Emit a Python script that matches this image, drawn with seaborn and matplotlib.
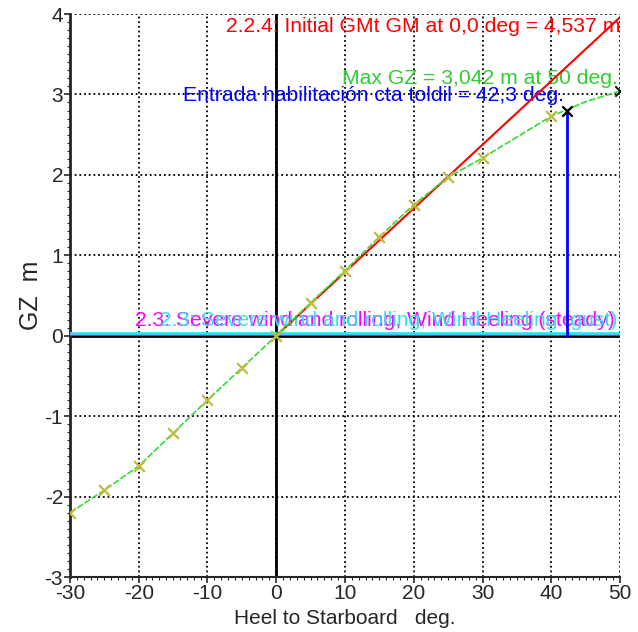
import matplotlib
matplotlib.use('Agg')
import matplotlib.pyplot as plt
import numpy as np
import pandas as pd
import seaborn as sns

# GZ curve
heel = [-30, -25, -20, -15, -10, -5, 0, 5, 10, 15, 20, 25, 30, 35, 40, 45, 50]
gz = [-2.2, -1.92, -1.62, -1.21, -0.80, -0.40, 0.0, 0.41, 0.81, 1.23, 1.63, 1.97, 2.21, 2.47, 2.73, 2.91, 3.042]
marked_heel = [-30, -25, -20, -15, -10, -5, 0, 5, 10, 15, 20, 25, 30, 40]

gm_initial = 4.537
max_gz_heel, max_gz = 50, 3.042
flood_heel, flood_gz = 42.3, 2.8
wind_steady = 0.025
wind_gust = 0.035

x_ticks = [-30, -20, -10, 0, 10, 20, 30, 40, 50]
y_ticks = [-3, -2, -1, 0, 1, 2, 3, 4]


def main():
    sns.set_style('white')
    plt.rcParams['font.family'] = ['Liberation Sans', 'DejaVu Sans']
    plt.rcParams['font.size'] = 15
    plt.rcParams['axes.unicode_minus'] = False

    df = pd.DataFrame({'Heel': heel, 'GZ': gz})
    marks = df[df['Heel'].isin(marked_heel)]

    fig = plt.figure(figsize=(6.38, 6.32), dpi=100)
    ax = fig.add_axes([0.1097, 0.087, 0.8621, 0.8908])

    ax.grid(True, color='black', linestyle=(0, (1, 1.6)), linewidth=1.3)
    ax.set_axisbelow(True)

    ax.axvline(0, color='black', lw=2, zorder=2)
    ax.axhline(0, color='black', lw=2, zorder=2)

    # wind heeling levers
    ax.axhline(wind_steady, color='magenta', lw=2, zorder=3)
    ax.axhline(wind_gust, color='#33E0F0', lw=2, zorder=3)

    # initial GM line
    gm_x = np.array([0, 57.3])
    ax.plot(gm_x, gm_x / 57.3 * gm_initial, color='red', lw=1.5, zorder=4)

    sns.lineplot(data=df, x='Heel', y='GZ', ax=ax, color='#33DD33', lw=1.2,
                 linestyle=(0, (4, 1.2)), zorder=5)
    sns.scatterplot(data=marks, x='Heel', y='GZ', ax=ax, marker='x', color='#C0BC40',
                    s=60, linewidth=1.6, zorder=6)

    ax.plot([flood_heel, flood_heel], [0, flood_gz], color='blue', lw=2, zorder=5)
    ax.scatter([flood_heel], [flood_gz], marker='x', color='black', s=55, linewidth=1.6, zorder=7)
    ax.scatter([max_gz_heel], [max_gz], marker='x', color='black', s=55, linewidth=1.3, zorder=7)

    fs = 15.2
    ax.text(50.1, 3.84, '2.2.4: Initial GMt GM at 0,0 deg = 4,537 m', color='red',
            ha='right', va='center', fontsize=fs)
    ax.text(49.7, 3.2, 'Max GZ = 3,042 m at 50 deg.', color='#33CC33',
            ha='right', va='center', fontsize=fs)
    ax.text(-13.6, 2.99, 'Entrada habilitación cta toldil = 42,3 deg.', color='blue',
            ha='left', va='center', fontsize=fs)
    ax.text(49.3, 0.19, '2.3: Severe wind and rolling, Wind Heeling (steady)', color='magenta',
            ha='right', va='center', fontsize=fs)
    ax.text(49.6, 0.19, '2.3: Severe wind and rolling, Wind Heeling (gust)', color='#33E0F0',
            ha='right', va='center', fontsize=fs)

    ax.set_xlim(-30, 50)
    ax.set_ylim(-3, 4)
    ax.set_xticks(x_ticks)
    ax.set_yticks(y_ticks)
    ax.set_xticks(np.arange(-30, 51, 1), minor=True)
    ax.set_yticks(np.arange(-3, 4.01, 0.1), minor=True)
    ax.tick_params(which='major', direction='out', length=4, width=1.2, labelsize=15, pad=1)
    ax.tick_params(which='minor', direction='out', length=2, width=0.8)
    ax.tick_params(axis='x', which='both', bottom=True)
    ax.tick_params(axis='y', which='both', left=True)

    for side in ['top', 'right']:
        ax.spines[side].set_visible(False)
    ax.spines['left'].set_linewidth(2)
    ax.spines['bottom'].set_linewidth(1.5)

    ax.set_xlabel('Heel to Starboard   deg.', fontsize=15, labelpad=4)
    ax.set_ylabel('GZ  m', fontsize=18, labelpad=1)

    fig.savefig('out.png', dpi=100)


if __name__ == '__main__':
    main()
